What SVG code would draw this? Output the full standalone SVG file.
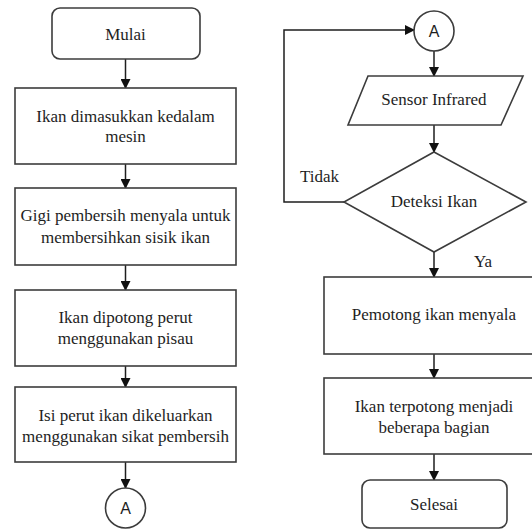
<svg xmlns="http://www.w3.org/2000/svg" width="532" height="529" viewBox="0 0 532 529">
<defs>
<marker id="ar" markerWidth="10" markerHeight="10" refX="9" refY="5" orient="auto" markerUnits="userSpaceOnUse">
<path d="M0,0 L10,5 L0,10 Z" fill="#111"/>
</marker>
</defs>
<rect width="532" height="529" fill="#fff"/>
<g id="connectors" fill="none" stroke="#1e1e1e" stroke-width="1.5">
<line x1="125.5" y1="59" x2="125.5" y2="88" marker-end="url(#ar)"/>
<line x1="125.5" y1="164" x2="125.5" y2="188" marker-end="url(#ar)"/>
<line x1="125.5" y1="265" x2="125.5" y2="290" marker-end="url(#ar)"/>
<line x1="125.5" y1="366" x2="125.5" y2="387" marker-end="url(#ar)"/>
<line x1="125.5" y1="462" x2="125.5" y2="488" marker-end="url(#ar)"/>
<line x1="434" y1="51" x2="434" y2="76" marker-end="url(#ar)"/>
<line x1="434" y1="125" x2="434" y2="152" marker-end="url(#ar)"/>
<polyline points="344,202 284,202 284,30 414,30" marker-end="url(#ar)"/>
<line x1="434" y1="252" x2="434" y2="277" marker-end="url(#ar)"/>
<line x1="434" y1="354" x2="434" y2="378" marker-end="url(#ar)"/>
<line x1="434" y1="454" x2="434" y2="480" marker-end="url(#ar)"/>
</g>
<text x="300" y="182" font-family="Liberation Serif" font-size="17" fill="#1e1e1e">Tidak</text>
<text x="474" y="267" font-family="Liberation Serif" font-size="17" fill="#1e1e1e">Ya</text>
<g id="mulai">
<rect x="52" y="8" width="148" height="51" rx="8" fill="#fff" stroke="#3c3c3c" stroke-width="1.6"/>
<text x="125.5" y="40" font-family="Liberation Serif" font-size="17" fill="#1e1e1e" text-anchor="middle">Mulai</text>
</g>
<g id="p1">
<rect x="15" y="88" width="221" height="76" fill="#fff" stroke="#3c3c3c" stroke-width="1.6"/>
<text x="125.5" y="122" font-family="Liberation Serif" font-size="17" fill="#1e1e1e" text-anchor="middle">Ikan dimasukkan kedalam</text>
<text x="125.5" y="142" font-family="Liberation Serif" font-size="17" fill="#1e1e1e" text-anchor="middle">mesin</text>
</g>
<g id="p2">
<rect x="15" y="188" width="221" height="77" fill="#fff" stroke="#3c3c3c" stroke-width="1.6"/>
<text x="125.5" y="221" font-family="Liberation Serif" font-size="17" fill="#1e1e1e" text-anchor="middle">Gigi pembersih menyala untuk</text>
<text x="125.5" y="243" font-family="Liberation Serif" font-size="17" fill="#1e1e1e" text-anchor="middle">membersihkan sisik ikan</text>
</g>
<g id="p3">
<rect x="15" y="290" width="221" height="76" fill="#fff" stroke="#3c3c3c" stroke-width="1.6"/>
<text x="125.5" y="323" font-family="Liberation Serif" font-size="17" fill="#1e1e1e" text-anchor="middle">Ikan dipotong perut</text>
<text x="125.5" y="344" font-family="Liberation Serif" font-size="17" fill="#1e1e1e" text-anchor="middle">menggunakan pisau</text>
</g>
<g id="p4">
<rect x="15" y="387" width="221" height="75" fill="#fff" stroke="#3c3c3c" stroke-width="1.6"/>
<text x="125.5" y="421" font-family="Liberation Serif" font-size="17" fill="#1e1e1e" text-anchor="middle">Isi perut ikan dikeluarkan</text>
<text x="125.5" y="442" font-family="Liberation Serif" font-size="17" fill="#1e1e1e" text-anchor="middle">menggunakan sikat pembersih</text>
</g>
<g id="conn-a1">
<circle cx="125.5" cy="508" r="20" fill="#fff" stroke="#3c3c3c" stroke-width="1.6"/>
<text x="125.5" y="514" font-family="Liberation Sans" font-size="16" fill="#1e1e1e" text-anchor="middle">A</text>
</g>
<g id="conn-a2">
<circle cx="434" cy="31" r="20" fill="#fff" stroke="#3c3c3c" stroke-width="1.6"/>
<text x="434" y="37" font-family="Liberation Sans" font-size="16" fill="#1e1e1e" text-anchor="middle">A</text>
</g>
<g id="sensor">
<polygon points="368,76 523,76 501,125 348,125" fill="#fff" stroke="#3c3c3c" stroke-width="1.6"/>
<text x="434" y="105" font-family="Liberation Serif" font-size="17" fill="#1e1e1e" text-anchor="middle">Sensor Infrared</text>
</g>
<g id="deteksi">
<polygon points="434,152 526,202 434,252 344,202" fill="#fff" stroke="#3c3c3c" stroke-width="1.6"/>
<text x="434" y="207" font-family="Liberation Serif" font-size="17" fill="#1e1e1e" text-anchor="middle">Deteksi Ikan</text>
</g>
<g id="pemotong">
<rect x="324" y="277" width="220" height="77" fill="#fff" stroke="#3c3c3c" stroke-width="1.6"/>
<text x="434" y="320" font-family="Liberation Serif" font-size="17" fill="#1e1e1e" text-anchor="middle">Pemotong ikan menyala</text>
</g>
<g id="terpotong">
<rect x="324" y="378" width="220" height="76" fill="#fff" stroke="#3c3c3c" stroke-width="1.6"/>
<text x="434" y="412" font-family="Liberation Serif" font-size="17" fill="#1e1e1e" text-anchor="middle">Ikan terpotong menjadi</text>
<text x="434" y="433" font-family="Liberation Serif" font-size="17" fill="#1e1e1e" text-anchor="middle">beberapa bagian</text>
</g>
<g id="selesai">
<rect x="362" y="480" width="145" height="48" rx="8" fill="#fff" stroke="#3c3c3c" stroke-width="1.6"/>
<text x="434" y="510" font-family="Liberation Serif" font-size="17" fill="#1e1e1e" text-anchor="middle">Selesai</text>
</g>
</svg>
